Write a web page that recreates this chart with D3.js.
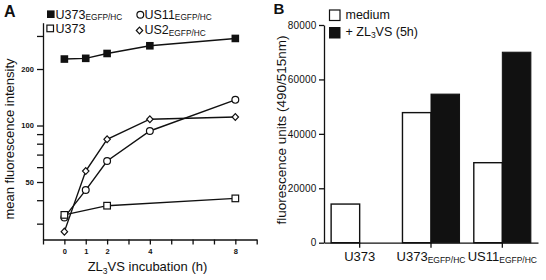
<!DOCTYPE html>
<html><head><meta charset="utf-8">
<script src="https://cdn.jsdelivr.net/npm/d3@7"></script>
<style>
body{margin:0;background:#fff}
svg{display:block}
text{font-family:"Liberation Sans",Arial,Helvetica,sans-serif;fill:#111}
</style>
</head><body><svg id="c" width="546" height="280"></svg>
<script>
// ---------- Panel A data ----------
const hours = [0, 1, 2, 4, 8];
const u373EgfpValues = [226, 228, 242, 266, 291];
const us11Values = [32.4, 45.3, 64.7, 93.5, 137];
const us2Values = [27.2, 57.2, 84.4, 108, 111];
const u373Hours = [0, 2, 8];
const u373Values = [33.4, 37.4, 40.9];
const xTicksA = [-1, 0, 1, 2, 3, 4, 5, 6, 7, 8, 9];
const xTickLabelsA = [0, 1, 2, 4, 8];
const yTicksA = [300, 200, 100, 90, 80, 70, 60, 50, 40, 30];
const yTickLabelsA = [200, 100, 50];

// ---------- Panel B data ----------
const categoriesB = ["U373", "U373EGFP/HC", "US11EGFP/HC"];
const categoryMain = ["U373", "U373", "US11"];
const categorySub = ["", "EGFP/HC", "EGFP/HC"];
const mediumValues = [14200, 47800, 29400];
const zlValues = [0, 54600, 70000];
const yTicksB = [0, 20000, 40000, 60000, 80000];

const svg = d3.select("#c");
const ink = "#111";

// ================= Panel A =================
const xA = d3.scaleLinear().domain([-1, 9]).range([43, 256.7]);
const yA = d3.scaleLog().domain([24.7, 353]).range([239.5, 22.7]);

const axA_y = svg.append("g").attr("transform", `translate(${xA.range()[0]},0)`)
  .call(d3.axisLeft(yA).tickValues(yTicksA).tickSize(6).tickSizeOuter(0).tickPadding(3.2)
    .tickFormat(d => yTickLabelsA.includes(d) ? d : ""));
const axA_x = svg.append("g").attr("transform", `translate(0,${yA.range()[0]})`)
  .call(d3.axisBottom(xA).tickValues(xTicksA).tickSize(5).tickSizeOuter(0).tickPadding(4.5)
    .tickFormat(d => xTickLabelsA.includes(d) ? d : ""));
[axA_y, axA_x].forEach(g => {
  g.selectAll("path,line").attr("stroke", ink).attr("stroke-width", 1.3);
  g.selectAll("text").attr("font-size", 7.5).attr("font-weight", "bold").attr("fill", ink)
    .attr("font-family", "Liberation Sans, Arial, sans-serif");
});

const lineA = (xs, ys) => d3.line().x((d, i) => xA(xs[i])).y((d, i) => yA(ys[i]))(ys);
const seriesA = [
  {xs: hours, ys: u373EgfpValues, m: "fsq"},
  {xs: hours, ys: us11Values, m: "circ"},
  {xs: hours, ys: us2Values, m: "diam"},
  {xs: u373Hours, ys: u373Values, m: "osq"}
];
seriesA.forEach(s => {
  svg.append("path").attr("d", lineA(s.xs, s.ys)).attr("fill", "none")
    .attr("stroke", ink).attr("stroke-width", 1.4);
});
function marker(g, type, cx, cy) {
  if (type === "fsq") {
    g.append("rect").attr("x", cx - 3.8).attr("y", cy - 3.8).attr("width", 7.6).attr("height", 7.6)
      .attr("fill", ink);
  } else if (type === "osq") {
    g.append("rect").attr("x", cx - 3.3).attr("y", cy - 3.3).attr("width", 6.6).attr("height", 6.6)
      .attr("fill", "#fff").attr("stroke", ink).attr("stroke-width", 1.2);
  } else if (type === "circ") {
    g.append("circle").attr("cx", cx).attr("cy", cy).attr("r", 3.4)
      .attr("fill", "#fff").attr("stroke", ink).attr("stroke-width", 1.2);
  } else {
    g.append("path").attr("d", `M${cx},${cy - 3.4}L${cx + 3.2},${cy}L${cx},${cy + 3.4}L${cx - 3.2},${cy}Z`)
      .attr("fill", "#fff").attr("stroke", ink).attr("stroke-width", 1.2);
  }
}
const mk = svg.append("g");
seriesA.forEach(s => s.ys.forEach((v, i) => marker(mk, s.m, xA(s.xs[i]), yA(v))));

// legend A
const legA = svg.append("g");
function legItem(type, mx, my, tx, ty, main, sub, subDy) {
  marker(legA, type, mx, my);
  const t = legA.append("text").attr("x", tx).attr("y", ty).attr("font-size", 12.5).attr("fill", ink);
  t.append("tspan").text(main);
  if (sub) t.append("tspan").attr("font-size", 8.3).attr("dy", subDy).text(sub);
}
legItem("fsq", 50.8, 14.2, 55.5, 18.5, "U373", "EGFP/HC", 1.3);
legItem("osq", 50.2, 28.4, 55.5, 32.8, "U373", "", 0);
legItem("circ", 140.3, 14.8, 144.5, 18.5, "US11", "EGFP/HC", 1.6);
legItem("diam", 139.5, 30.5, 144.5, 33.5, "US2", "EGFP/HC", 2.4);

// titles A
svg.append("text").attr("transform", "translate(14,139) rotate(-90)").attr("text-anchor", "middle")
  .attr("font-size", 13).text("mean fluorescence intensity");
const xtA = svg.append("text").attr("x", 147.5).attr("y", 271).attr("text-anchor", "middle").attr("font-size", 13);
xtA.append("tspan").text("ZL");
xtA.append("tspan").attr("font-size", 8.5).attr("dy", 2.5).text("3");
xtA.append("tspan").attr("dy", -2.5).text("VS incubation (h)");
svg.append("text").attr("x", 4).attr("y", 17.3).attr("font-size", 16).attr("font-weight", "bold").text("A");

// ================= Panel B =================
const xB = d3.scaleBand().domain(categoriesB).range([324, 538]).padding(0);
const yB = d3.scaleLinear().domain([0, 80000]).range([242.7, 25]);
const bw = xB.step() * 0.4;

const axB_y = svg.append("g").attr("transform", `translate(${xB.range()[0]},0)`)
  .call(d3.axisLeft(yB).tickValues(yTicksB).tickSize(5).tickSizeOuter(0).tickPadding(2.5)
    .tickFormat(d3.format("d")));
axB_y.selectAll("text").attr("font-family", "Liberation Serif, Times New Roman, serif")
  .attr("font-size", 10).attr("fill", ink).attr("letter-spacing", 0.2);

const cx = c => xB(c) + xB.bandwidth() / 2;
svg.append("g").selectAll("rect").data(categoriesB).join("rect")
  .attr("x", d => cx(d) - bw).attr("width", bw)
  .attr("y", (d, i) => yB(mediumValues[i])).attr("height", (d, i) => yB(0) - yB(mediumValues[i]))
  .attr("fill", "#fff").attr("stroke", ink).attr("stroke-width", 1.4);
svg.append("g").selectAll("rect").data(categoriesB.filter((d, i) => zlValues[i] > 0)).join("rect")
  .attr("x", d => cx(d)).attr("width", bw)
  .attr("y", d => yB(zlValues[categoriesB.indexOf(d)]))
  .attr("height", d => yB(0) - yB(zlValues[categoriesB.indexOf(d)]))
  .attr("fill", ink).attr("stroke", ink).attr("stroke-width", 1);

const axB_x = svg.append("g").attr("transform", `translate(0,${yB.range()[0]})`)
  .call(d3.axisBottom(xB).tickSize(5).tickSizeOuter(0).tickFormat(""));
[axB_y, axB_x].forEach(g => g.selectAll("path,line").attr("stroke", ink).attr("stroke-width", 1.3));

categoriesB.forEach((c, i) => {
  const t = svg.append("text").attr("x", cx(c)).attr("y", 260.7).attr("text-anchor", "middle").attr("font-size", 13);
  t.append("tspan").text(categoryMain[i]);
  if (categorySub[i]) t.append("tspan").attr("font-size", 8.5).attr("dy", 2.5).text(categorySub[i]);
});

// legend B
svg.append("rect").attr("x", 329.5).attr("y", 10).attr("width", 10.5).attr("height", 10.5)
  .attr("fill", "#fff").attr("stroke", ink).attr("stroke-width", 1.2);
svg.append("rect").attr("x", 329).attr("y", 27).attr("width", 11.5).attr("height", 11.5).attr("fill", ink);
svg.append("text").attr("x", 345.5).attr("y", 19.3).attr("font-size", 12.5).text("medium");
const lb = svg.append("text").attr("x", 345.5).attr("y", 35.8).attr("font-size", 12.5);
lb.append("tspan").text("+ ZL");
lb.append("tspan").attr("font-size", 8.5).attr("dy", 2.5).text("3");
lb.append("tspan").attr("dy", -2.5).text("VS (5h)");

svg.append("text").attr("transform", "translate(285.5,130) rotate(-90)").attr("text-anchor", "middle")
  .attr("font-size", 13.5).text("fluorescence units (490/515nm)");
svg.append("text").attr("x", 273.5).attr("y", 13.8).attr("font-size", 15).attr("font-weight", "bold").text("B");
</script>
</body></html>
